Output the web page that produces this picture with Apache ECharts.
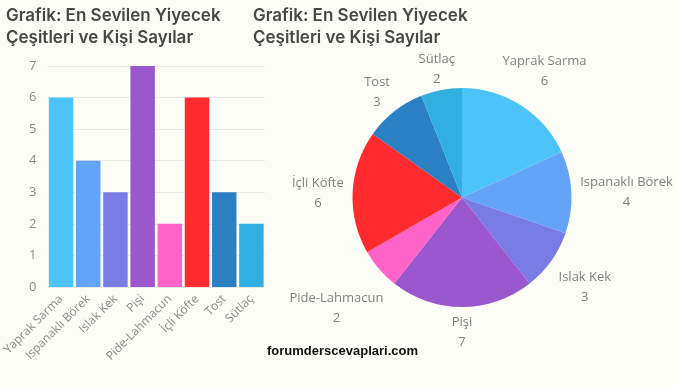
<!DOCTYPE html>
<html>
<head>
<meta charset="utf-8">
<script src="https://cdn.jsdelivr.net/npm/echarts@6/dist/echarts.min.js"></script>
<style>
html,body{margin:0;padding:0;background:#FDFDF8;}
#c{width:676px;height:388px;}
</style>
</head>
<body>
<div id="c"></div>
<script>
const categories = ['Yaprak Sarma','Ispanaklı Börek','Islak Kek','Pişi','Pide-Lahmacun','İçli Köfte','Tost','Sütlaç'];
const values = [6,4,3,7,2,6,3,2];
const colors = ['#4CC4FA','#63A4F9','#7A7CE6','#9B57CD','#FF62C8','#FF2B2E','#2A80C3','#31AFE0'];
const titleText = 'Grafik: En Sevilen Yiyecek\nÇeşitleri ve Kişi Sayılar';

const pieCenter = [462, 197.5];
const pieRadius = 109.5;
const total = values.reduce((a,b)=>a+b,0);
const midAngles = [];
{ let acc = 0; values.forEach(v => { midAngles.push((acc + v/2)/total*2*Math.PI); acc += v; }); }

const chart = echarts.init(document.getElementById('c'), null, {renderer:'canvas'});
chart.setOption({
  backgroundColor:'#FDFDF8',
  animation:false,
  title:[
    {text:titleText,left:1,top:0,textStyle:{fontFamily:'Inter',fontWeight:600,fontSize:17,color:'#474747',lineHeight:22}},
    {text:titleText,left:248,top:0,textStyle:{fontFamily:'Inter',fontWeight:600,fontSize:17,color:'#474747',lineHeight:22}}
  ],
  graphic:[{type:'text',left:267,top:345,style:{text:'forumderscevaplari.com',font:'bold 13px "Liberation Sans"',fill:'#111'}}],
  grid:{left:44,right:411,top:66,bottom:101,containLabel:false},
  xAxis:{type:'category',data:categories,
    axisLine:{show:false},axisTick:{show:false},
    axisLabel:{rotate:45,interval:0,color:'#8a8a8a',fontFamily:'Open Sans',fontSize:12,margin:10}},
  yAxis:{type:'value',min:0,max:7,interval:1,
    axisLine:{show:false},axisTick:{show:false},
    splitLine:{lineStyle:{color:'#E8E8E4'}},
    axisLabel:{color:'#8a8a8a',fontFamily:'Open Sans',fontSize:13,margin:11}},
  series:[
    {type:'bar',data:values.map((v,i)=>({value:v,itemStyle:{color:colors[i]}})),barCategoryGap:'10%'},
    {type:'pie',center:pieCenter,radius:[0,pieRadius],startAngle:90,clockwise:true,
      data:categories.map((c,i)=>({name:c,value:values[i],itemStyle:{color:colors[i]}})),
      label:{show:true,position:'outside',formatter:'{b}\n{c}',color:'#808080',fontFamily:'Open Sans',fontSize:13,lineHeight:20,overflow:'none'},
      labelLine:{show:false,length:10,length2:0},
      labelLayout:function(p){
        const a = midAngles[p.dataIndex];
        const s = Math.sin(a), c = Math.cos(a);
        const w = p.labelRect.width, h = p.labelRect.height;
        const vPad = c > 0 ? -1 : 3;
        const d = pieRadius + Math.abs(s)*(w/2 + 8) + Math.abs(c)*(h/2 + vPad);
        return {x: pieCenter[0] + s*d, y: pieCenter[1] - c*d + 2.5, align:'center', verticalAlign:'middle'};
      },
      emphasis:{disabled:true}}
  ]
});
</script>
</body>
</html>
